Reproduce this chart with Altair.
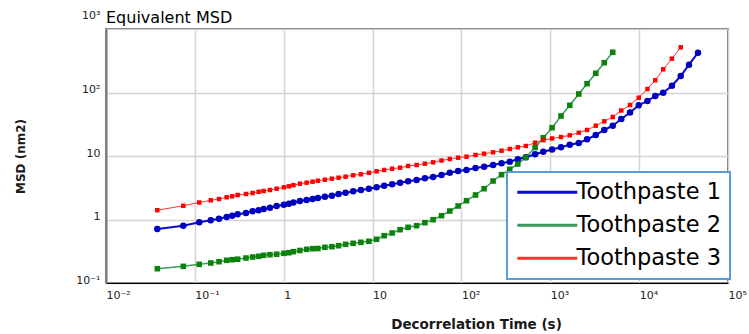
import altair as alt
import pandas as pd

# Decorrelation time (s), shared lag grid
time_s = [0.0378, 0.0741, 0.112, 0.151, 0.187, 0.228, 0.263, 0.303, 0.376, 0.447,
          0.522, 0.594, 0.700, 0.832, 1.005, 1.144, 1.286, 1.521, 1.81, 2.114,
          2.425, 2.907, 3.485, 4.145, 4.97, 6.05, 7.385, 9.09, 11.09, 13.5,
          16.6, 20.4, 25.1, 31.3, 38.8, 48.0, 59.7, 74.0, 91.8, 114.1,
          144.1, 180, 227, 282.6, 350, 431, 530, 675, 834, 1048,
          1320, 1657, 2092, 2594, 3250, 4049, 5047, 6291, 7901, 9897,
          12400, 15180, 18670, 23390, 29380, 36420, 45970]

msd_tp1 = [0.709, 0.799, 0.903, 0.971, 1.029, 1.095, 1.148, 1.207, 1.266, 1.346,
           1.396, 1.464, 1.534, 1.631, 1.711, 1.774, 1.852, 1.956, 2.028, 2.102,
           2.180, 2.286, 2.370, 2.521, 2.642, 2.781, 2.915, 3.055, 3.215, 3.407,
           3.584, 3.798, 3.996, 4.188, 4.454, 4.670, 5.021, 5.457, 5.804, 6.018,
           6.471, 6.784, 7.215, 7.674, 8.132, 8.872, 9.539, 10.67, 11.69, 12.66,
           13.71, 15.07, 16.02, 18.32, 21.41, 25.67, 30.01, 38.26, 48.42, 62.86,
           73.47, 88.09, 99.29, 128.0, 181.9, 274.0, 423.6]

msd_tp2 = [0.168, 0.183, 0.197, 0.2065, 0.2165, 0.2278, 0.2328, 0.2371, 0.2476, 0.2567,
           0.2633, 0.2730, 0.2791, 0.2841, 0.2935, 0.3000, 0.3111, 0.3249, 0.3394, 0.3469,
           0.3494, 0.3650, 0.3730, 0.3868, 0.4068, 0.4219, 0.4374, 0.4536, 0.4877, 0.5556,
           0.6131, 0.6908, 0.7538, 0.7990, 0.8905, 0.993, 1.148, 1.361, 1.631, 1.978,
           2.431, 3.055, 4.04, 5.076, 6.174, 7.482, 9.47, 13.61, 19.42, 27.9,
           42.65, 62.86, 94.7, 137.6, 200.7, 294.6, 429.7]

msd_tp3 = [1.401, 1.643, 1.852, 2.006, 2.102, 2.236, 2.319, 2.431, 2.521, 2.614,
           2.731, 2.811, 2.915, 3.055, 3.215, 3.333, 3.469, 3.663, 3.798, 3.938,
           4.083, 4.234, 4.390, 4.552, 4.721, 4.967, 5.150, 5.437, 5.742, 6.018,
           6.310, 6.542, 6.957, 7.215, 7.563, 7.958, 8.494, 8.971, 9.402, 9.750,
           10.37, 10.87, 11.44, 12.12, 12.89, 13.71, 14.37, 16.20, 17.74, 18.86,
           19.92, 21.18, 23.27, 25.67, 30.01, 35.20, 41.13, 52.06, 63.55, 82.81,
           113.5, 155.6, 231.9, 340.7, 514.9]

series_names = ["Toothpaste 1", "Toothpaste 2", "Toothpaste 3"]
line_colors = ["#0a0ad2", "#3c9a5f", "#ff3030"]
point_colors = ["#0000c0", "#0b830b", "#ff0000"]

chart_title = "Equivalent MSD"
x_tick_values = [0.01, 0.1, 1, 10, 100, 1000, 10000, 100000]
x_tick_labels = ["10\u207b\u00b2", "10\u207b\u00b9", "1", "10", "10\u00b2", "10\u00b3", "10\u2074", "10\u2075"]
y_tick_values = [0.1, 1, 10, 100, 1000]
y_tick_labels = ["10\u207b\u00b9", "1", "10", "10\u00b2", "10\u00b3"]

rows = []
for name, vals in zip(series_names, [msd_tp1, msd_tp2, msd_tp3]):
    for t, v in zip(time_s, vals):
        rows.append({"series": name, "time": t, "msd": v})
df = pd.DataFrame(rows)

def label_expr(labels, offset):
    arr = "[" + ",".join("'" + s + "'" for s in labels) + "]"
    return f"{arr}[round(log(datum.value)/LN10)+{offset}]"

FONT = "DejaVu Sans"

x_enc = alt.X("time:Q",
              scale=alt.Scale(type="log", domain=[0.01, 100000]),
              axis=alt.Axis(values=x_tick_values, labelExpr=label_expr(x_tick_labels, 2),
                            title="Decorrelation Time (s)", titleX=370, titleY=34,
                            titleFontSize=13.5, titleFontWeight="bold", titleColor="#1a1a1a",
                            labelAlign="left", labelBaseline="middle", labelPadding=12,
                            labelFontSize=11, labelColor="#222", labelFont=FONT, titleFont=FONT,
                            ticks=False, domainColor="#000", domainWidth=1,
                            gridColor="#d4d4d4", gridWidth=1.5))
y_enc = alt.Y("msd:Q",
              scale=alt.Scale(type="log", domain=[0.1, 1000]),
              axis=alt.Axis(values=y_tick_values, labelExpr=label_expr(y_tick_labels, 1),
                            title="MSD (nm2)", titleFontSize=12, titleFontWeight="bold",
                            titleColor="#1a1a1a", titlePadding=48, titleFont=FONT,
                            labelAlign="right", labelBaseline="alphabetic", labelPadding=6,
                            labelOffset={"condition": {"test": "datum.value == 1000", "value": -11}, "value": 0},
                            labelFontSize=11, labelColor="#222", labelFont=FONT,
                            ticks=False, domainColor="#7a7a7a", domainWidth=2,
                            gridColor="#d4d4d4", gridWidth=1.5))

lines = alt.Chart(df).mark_line(clip=True).encode(
    x=x_enc, y=y_enc,
    color=alt.Color("series:N", scale=alt.Scale(domain=series_names, range=line_colors),
                    legend=alt.Legend(orient="none", legendX=401, legendY=143, title=None,
                                      symbolType="M-5,0H5", symbolSize=144, symbolStrokeWidth=3,
                                      symbolOffset=20, labelOffset=18,
                                      labelFontSize=22.5, labelFont=FONT, labelColor="#000",
                                      strokeColor="#5b9bd5", fillColor="white", padding=9,
                                      rowPadding=10)),
    strokeWidth=alt.StrokeWidth("series:N", scale=alt.Scale(domain=series_names, range=[2, 1, 1]), legend=None),
    detail="series:N",
)

points = alt.Chart(df).mark_point(filled=True, opacity=1, clip=True).encode(
    x="time:Q", y="msd:Q",
    color=alt.Color("series:N", scale=alt.Scale(domain=series_names, range=point_colors), legend=None),
    shape=alt.Shape("series:N", scale=alt.Scale(domain=series_names, range=["circle", "square", "square"]), legend=None),
    size=alt.Size("series:N", scale=alt.Scale(domain=series_names, range=[42, 20, 20]), legend=None),
)

title_text = alt.Chart(pd.DataFrame({"t": [chart_title]})).mark_text(
    align="left", baseline="alphabetic", fontSize=16, font=FONT, color="#000", clip=False
).encode(x=alt.value(0), y=alt.value(-6), text="t:N")

chart = alt.layer(lines, points, title_text).resolve_scale(color="independent").properties(
    width=622, height=254,
    autosize=alt.AutoSizeParams(type="none"),
    padding={"left": 106, "top": 29, "right": 21, "bottom": 51},
).configure_view(stroke="#444", strokeWidth=1.5).configure_legend(strokeWidth=2)

chart.save("out.html", embed_options={"renderer": "svg", "actions": False})
